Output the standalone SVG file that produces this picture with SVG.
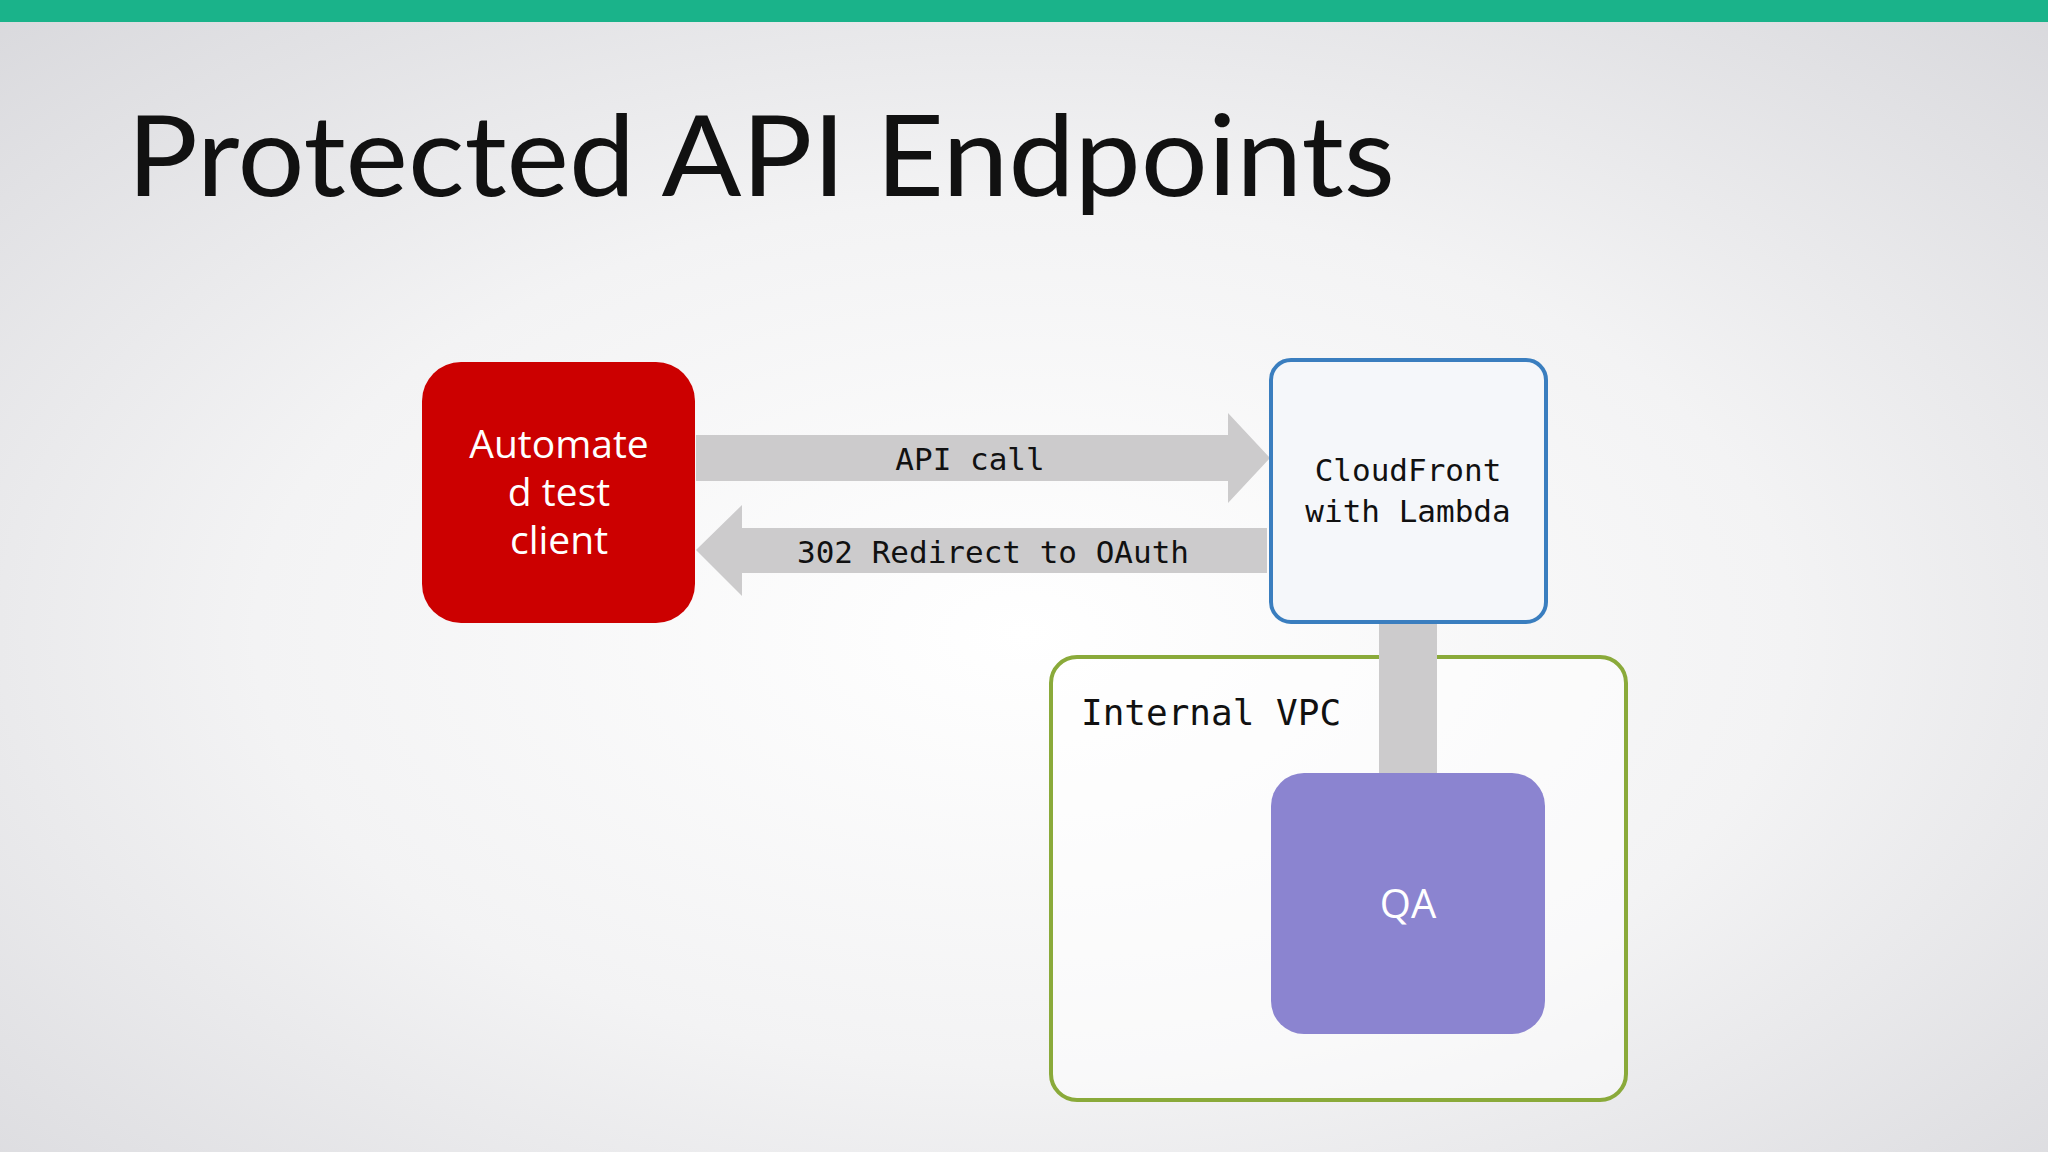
<svg xmlns="http://www.w3.org/2000/svg" width="2048" height="1152" viewBox="0 0 2048 1152">
<defs>
<radialGradient id="bg" cx="50%" cy="55%" r="75%">
<stop offset="0" stop-color="#ffffff"/><stop offset="0.5" stop-color="#f3f3f4"/><stop offset="1" stop-color="#d8d8dc"/>
</radialGradient>
<style>
.mono{font-family:"DejaVu Sans Mono","Liberation Mono",monospace;fill:#111}
.sans{font-family:"Open Sans","Noto Sans",sans-serif;fill:#fff}
.conn{fill:#cccbcc}
</style>
</defs>
<rect width="2048" height="1152" fill="url(#bg)"/>
<rect width="2048" height="22" fill="#1ab38a"/>
<text x="127" y="196" font-family="Lato,'Open Sans',sans-serif" font-size="112" fill="#111" textLength="1268" lengthAdjust="spacingAndGlyphs">Protected API Endpoints</text>
<g id="vpc">
<rect x="1051" y="657" width="575" height="443" rx="26" fill="#ffffff" fill-opacity="0.5" stroke="#8aaa3a" stroke-width="4"/>
<text class="mono" x="1081" y="725" font-size="36">Internal VPC</text>
</g>
<g id="connectors">
<polygon class="conn" points="696,435 1228,435 1228,413 1270,458 1228,503 1228,481 696,481"/>
<text class="mono" x="970" y="470" font-size="31" text-anchor="middle">API call</text>
<polygon class="conn" points="1267,528 742,528 742,505 696,550 742,596 742,573 1267,573"/>
<text class="mono" x="993" y="563" font-size="31" text-anchor="middle">302 Redirect to OAuth</text>
<rect class="conn" x="1379" y="623" width="58" height="150"/>
</g>
<g id="client">
<rect x="422" y="362" width="273" height="261" rx="39" fill="#cc0000"/>
<text class="sans" font-size="39" text-anchor="middle"><tspan x="559" y="458">Automate</tspan><tspan x="559" y="506">d test</tspan><tspan x="559" y="554">client</tspan></text>
</g>
<g id="cloudfront">
<rect x="1271" y="360" width="275" height="262" rx="20" fill="#f5f7fa" stroke="#3a7ebf" stroke-width="4"/>
<text class="mono" font-size="31" text-anchor="middle"><tspan x="1408" y="481">CloudFront</tspan><tspan x="1408" y="522">with Lambda</tspan></text>
</g>
<g id="qa">
<rect x="1271" y="773" width="274" height="261" rx="33" fill="#8b84d0"/>
<text class="sans" x="1408" y="918" font-size="40" text-anchor="middle">QA</text>
</g>
</svg>
